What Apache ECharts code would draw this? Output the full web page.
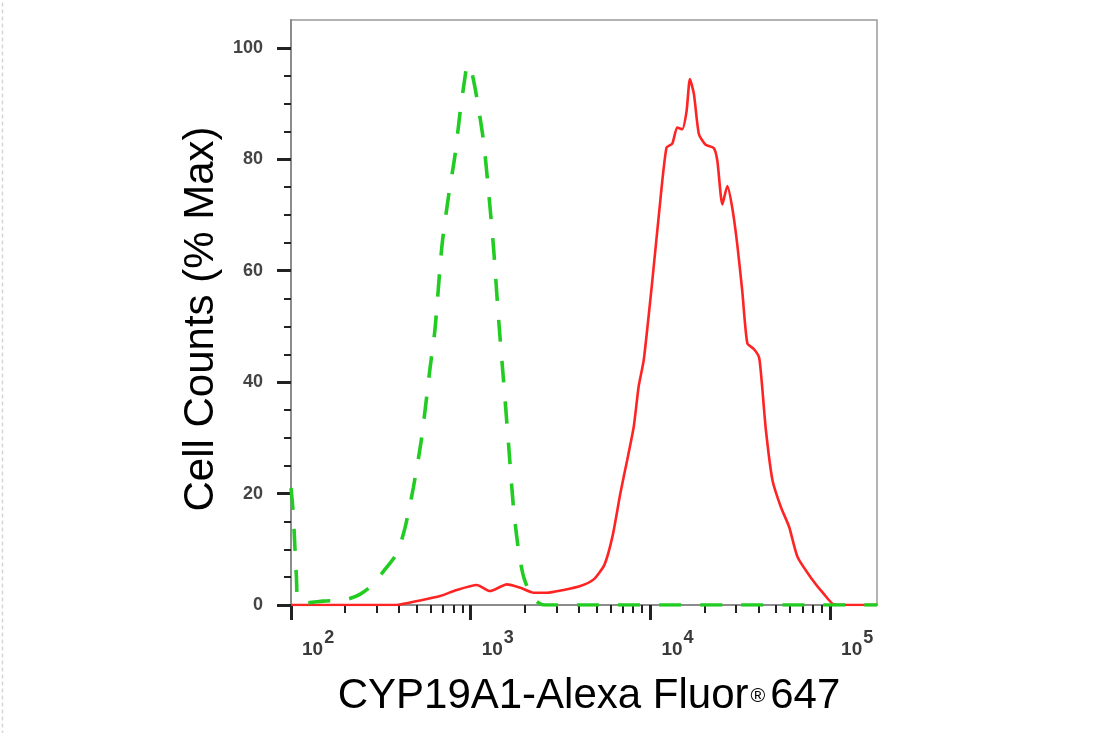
<!DOCTYPE html>
<html>
<head>
<meta charset="utf-8">
<script src="https://cdn.jsdelivr.net/npm/echarts@6/dist/echarts.min.js"></script>
<style>
  html, body { margin: 0; padding: 0; background: #fff; }
  #chart { width: 1120px; height: 733px; }
</style>
</head>
<body>
<div id="chart"></div>
<script>
// fluorescence intensity (x) vs cell counts (% max)
const redIntensity = [100, 369, 404, 522, 675, 836, 1081, 1283, 1589, 1887, 2238, 2656, 3289, 4076, 4834, 5546, 6170, 6802, 7425, 8079, 8610, 9186, 10233, 11386, 12297, 13233, 14107, 15036, 15892, 16592, 17465, 18626, 20291, 22573, 23588, 25142, 26805, 28576, 30466, 32480, 34627, 37745, 40262, 41660, 43894, 47786, 53209, 59193, 65920, 78189, 92720, 105370, 182400];
const redCounts = [0, 0, 0.1, 0.8, 1.6, 2.7, 3.6, 2.5, 3.7, 3.1, 2.2, 2.2, 2.7, 3.4, 4.6, 7.2, 12.5, 20, 26, 32, 39.3, 44, 58, 73, 82.1, 82.8, 85.7, 85.4, 88.6, 94.4, 91.7, 84.5, 82.6, 82.0, 79.7, 71.9, 75.2, 71.2, 64.6, 56.2, 47, 45.9, 44.4, 40, 31.5, 22.4, 17.6, 14.0, 8.6, 4.9, 1.9, 0.1, 0];

const greenIntensity = [100, 102.6, 104.9, 107.2, 109.4, 121.9, 150.7, 203.6, 241.7, 286.6, 325.9, 386.9, 430.6, 479.1, 533.4, 593.8, 632.9, 690, 751.2, 818.7, 873.2, 931.4, 959.5, 1014.9, 1082, 1178, 1256, 1340, 1430, 1522, 1623, 1730, 1846, 1968, 2144, 2286, 2438, 2600, 182400];
const greenCounts = [21, 17, 11, 5, 1, 0.4, 0.7, 1.0, 1.9, 3.7, 6.0, 9.2, 13.8, 21, 30, 42.5, 49.5, 64.1, 73.2, 80.8, 88.5, 94.9, 97, 95.5, 91, 83.3, 74.4, 64.1, 51.3, 40.4, 29, 17.5, 9.8, 5.1, 2.0, 0.9, 0.2, 0, 0];

const xMajorTicks = [100, 1000, 10000, 100000];
const xMinorTicks = [];
[100, 1000, 10000].forEach(d => { for (let k = 2; k <= 9; k++) xMinorTicks.push(k * d); });
const yMajorTicks = [0, 20, 40, 60, 80, 100];
const yMinorTicks = [5, 10, 15, 25, 30, 35, 45, 50, 55, 65, 70, 75, 85, 90, 95];

const xMin = 100, xMax = 182400, yMin = 0, yMax = 105;
const sans = '"Liberation Sans", Arial, Helvetica, sans-serif';
const tickGray = '#3a3a3a';

const zip = (xs, ys) => xs.map((x, i) => [x, ys[i]]);

const chart = echarts.init(document.getElementById('chart'));

const option = {
  animation: false,
  backgroundColor: '#fff',
  grid: {
    left: 291, right: 243, top: 20, bottom: 128,
    show: true, borderColor: '#9a9a9a', borderWidth: 1.5
  },
  xAxis: [
    {
      type: 'log', logBase: 10, min: xMin, max: xMax,
      name: 'CYP19A1-Alexa Fluor{r|®}647',
      nameLocation: 'middle', nameGap: 70,
      nameTextStyle: {
        fontFamily: sans, fontSize: 42, color: '#000', padding: [0, 0, 0, 10],
        rich: { r: { fontFamily: sans, fontSize: 20, color: '#000', padding: [0, 5, 0, 2] } }
      },
      axisLine: { show: true, lineStyle: { color: '#8c8c8c', width: 2 } },
      axisTick: { show: true, customValues: xMajorTicks, length: 15, lineStyle: { color: '#222', width: 3 } },
      axisLabel: {
        show: true, customValues: xMajorTicks, margin: 24, align: 'left', verticalAlign: 'top',
        padding: [0, 0, 0, 11], fontFamily: sans, fontSize: 19, fontWeight: 'bold', color: tickGray,
        formatter: v => '{b|10}{s|' + Math.round(Math.log10(v)) + '}',
        rich: {
          b: { fontFamily: sans, fontSize: 19, fontWeight: 'bold', lineHeight: 30, color: tickGray, verticalAlign: 'bottom' },
          s: { fontFamily: sans, fontSize: 18, fontWeight: 'bold', lineHeight: 18, color: tickGray, verticalAlign: 'top', padding: [0, 0, 0, 1] }
        }
      },
      splitLine: { show: false }
    },
    {
      type: 'log', logBase: 10, min: xMin, max: xMax, position: 'bottom',
      axisLine: { show: false },
      axisTick: { show: true, customValues: xMinorTicks, length: 8, lineStyle: { color: '#222', width: 2 } },
      axisLabel: { show: false },
      splitLine: { show: false }
    }
  ],
  yAxis: [
    {
      type: 'value', min: yMin, max: yMax,
      name: 'Cell Counts (% Max)',
      nameLocation: 'middle', nameGap: 51, nameRotate: 90,
      nameTextStyle: { fontFamily: sans, fontSize: 42, color: '#000', padding: [0, 13, 0, 0] },
      axisLine: { show: true, lineStyle: { color: '#8c8c8c', width: 2 } },
      axisTick: { show: true, customValues: yMajorTicks, length: 14, lineStyle: { color: '#222', width: 3 } },
      axisLabel: { show: true, customValues: yMajorTicks, margin: 28, fontFamily: sans, fontSize: 18, fontWeight: 'bold', color: '#444' },
      splitLine: { show: false }
    },
    {
      type: 'value', min: yMin, max: yMax, position: 'left',
      axisLine: { show: false },
      axisTick: { show: true, customValues: yMinorTicks, length: 7, lineStyle: { color: '#222', width: 2 } },
      axisLabel: { show: false },
      splitLine: { show: false }
    }
  ],
  graphic: [
    {
      type: 'line', left: 0, top: 0, silent: true,
      shape: { x1: 1, y1: 0, x2: 1, y2: 733 },
      style: { stroke: '#d6d6d6', lineWidth: 1.5, lineDash: [4, 3] }
    }
  ],
  series: [
    {
      name: 'CYP19A1',
      type: 'line', xAxisIndex: 0, yAxisIndex: 0,
      data: zip(redIntensity, redCounts),
      showSymbol: false, smooth: 0.2, sampling: 'none', z: 3,
      lineStyle: { color: '#ff2424', width: 2.6 }
    },
    {
      name: 'Isotype control',
      type: 'line', xAxisIndex: 0, yAxisIndex: 0,
      data: zip(greenIntensity, greenCounts),
      showSymbol: false, smooth: 0.25, sampling: 'none', z: 4,
      lineStyle: { color: '#22cc22', width: 3.6, type: [22, 19] }
    }
  ]
};

chart.setOption(option);
window.addEventListener('resize', () => chart.resize());
</script>
</body>
</html>
